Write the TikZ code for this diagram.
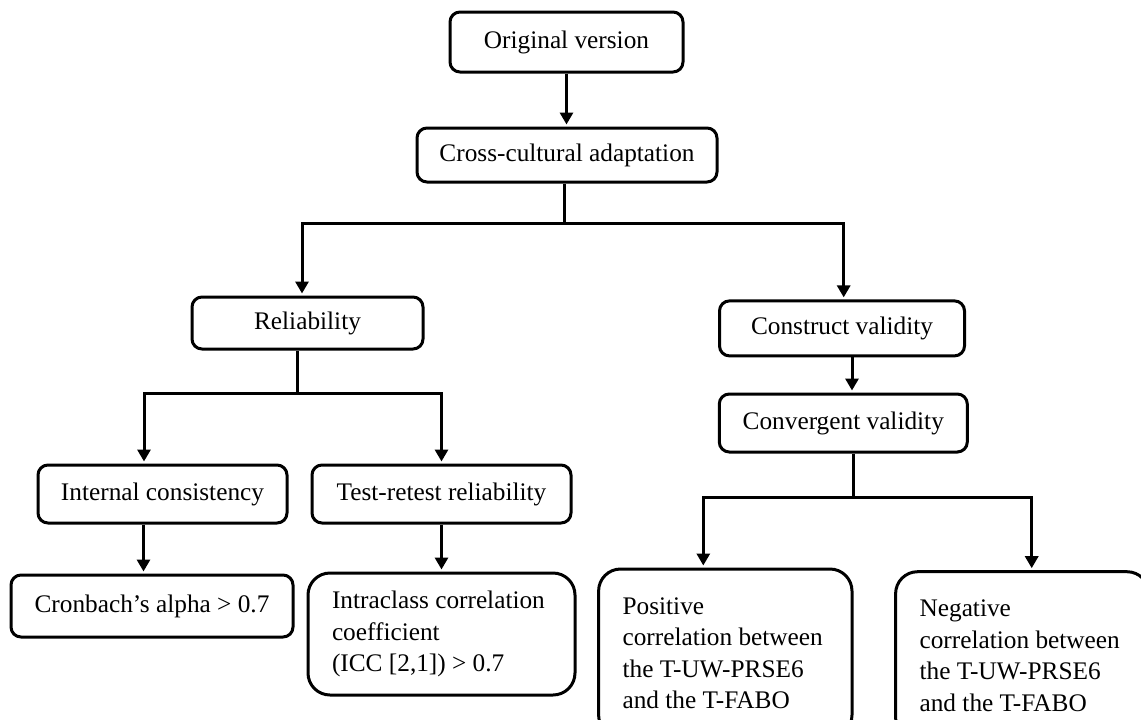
\documentclass[tikz,border=0pt]{standalone}
\usepackage{fontspec}
\setmainfont{Liberation Serif}
\usetikzlibrary{arrows.meta,calc}
\begin{document}
\begin{tikzpicture}[x=0.5pt,y=-0.5pt,
  box/.style={draw,line width=1.5pt,rounded corners=5pt,font=\fontsize{12.65}{15.75}\selectfont,inner sep=0pt,align=center},
  bigbox/.style={box,rounded corners=11pt,align=flush left},
  ln/.style={line width=1.5pt},
  arr/.style={ln,-{Triangle[length=6pt,width=6.5pt]},shorten >=1pt}]
\useasboundingbox (0,0) rectangle (1141,719);
% top chain
\node[box,minimum width=116.5pt,minimum height=30pt] (orig) at (566.5,42) {Original version};
\node[box,minimum width=150pt,minimum height=27pt] (cross) at (567,155) {Cross-cultural adaptation};
% reliability branch
\node[box,minimum width=115.5pt,minimum height=26pt] (rel) at (307.5,323) {Reliability};
\node[box,minimum width=124.5pt,minimum height=29pt] (intc) at (162.5,494) {Internal consistency};
\node[box,minimum width=129.5pt,minimum height=29pt] (trr) at (441.5,494) {Test-retest reliability};
\node[box,minimum width=141pt,minimum height=31pt] (cron) at (152,606) {Cronbach’s alpha > 0.7};
\node[bigbox,text width=109.5pt,minimum width=133.5pt,minimum height=61pt] (icc) at (441.5,634)
  {Intraclass correlation\\coefficient\\(ICC [2,1]) > 0.7};
% validity branch
\node[box,minimum width=122.5pt,minimum height=27.5pt] (cons) at (842,328.4) {Construct validity};
\node[box,minimum width=124pt,minimum height=29pt] (conv) at (843.3,423) {Convergent validity};
\node[bigbox,text width=102.7pt,minimum width=126.7pt,minimum height=84pt] (pos) at (725.3,653)
  {Positive\\correlation between\\the T-UW-PRSE6\\and the T-FABO};
\node[bigbox,text width=102.7pt,minimum width=126.7pt,minimum height=84pt] (neg) at (1022.3,655.7)
  {Negative\\correlation between\\the T-UW-PRSE6\\and the T-FABO};
% connectors
\draw[arr] (orig.south) -- (orig.south |- cross.north);
\draw[ln] ([xshift=-1.5pt]cross.south) -- ++(0,40) coordinate (j1);
\draw[arr] (j1) -| ([xshift=-2.75pt]rel.north);
\draw[arr] (j1) -| ([xshift=0.85pt]cons.north);
\draw[ln] ([xshift=-5pt]rel.south) -- ++(0,43) coordinate (j2);
\draw[arr] (j2) -| ([xshift=-9.25pt]intc.north);
\draw[arr] (j2) -| (trr.north);
\draw[arr] ([xshift=-9.5pt]intc.south) -- ([xshift=-9.5pt]intc.south |- cron.north);
\draw[arr] (trr.south) -- (trr.south |- icc.north);
\draw[arr] ([xshift=5pt]cons.south) -- ([xshift=5pt]cons.south |- conv.north);
\draw[ln] ([xshift=5.2pt]conv.south) -- ++(0,44) coordinate (j3);
\draw[arr] (j3) -| ([xshift=-11pt]pos.north);
\draw[arr] (j3) -| ([xshift=4.7pt]neg.north);
\end{tikzpicture}
\end{document}
